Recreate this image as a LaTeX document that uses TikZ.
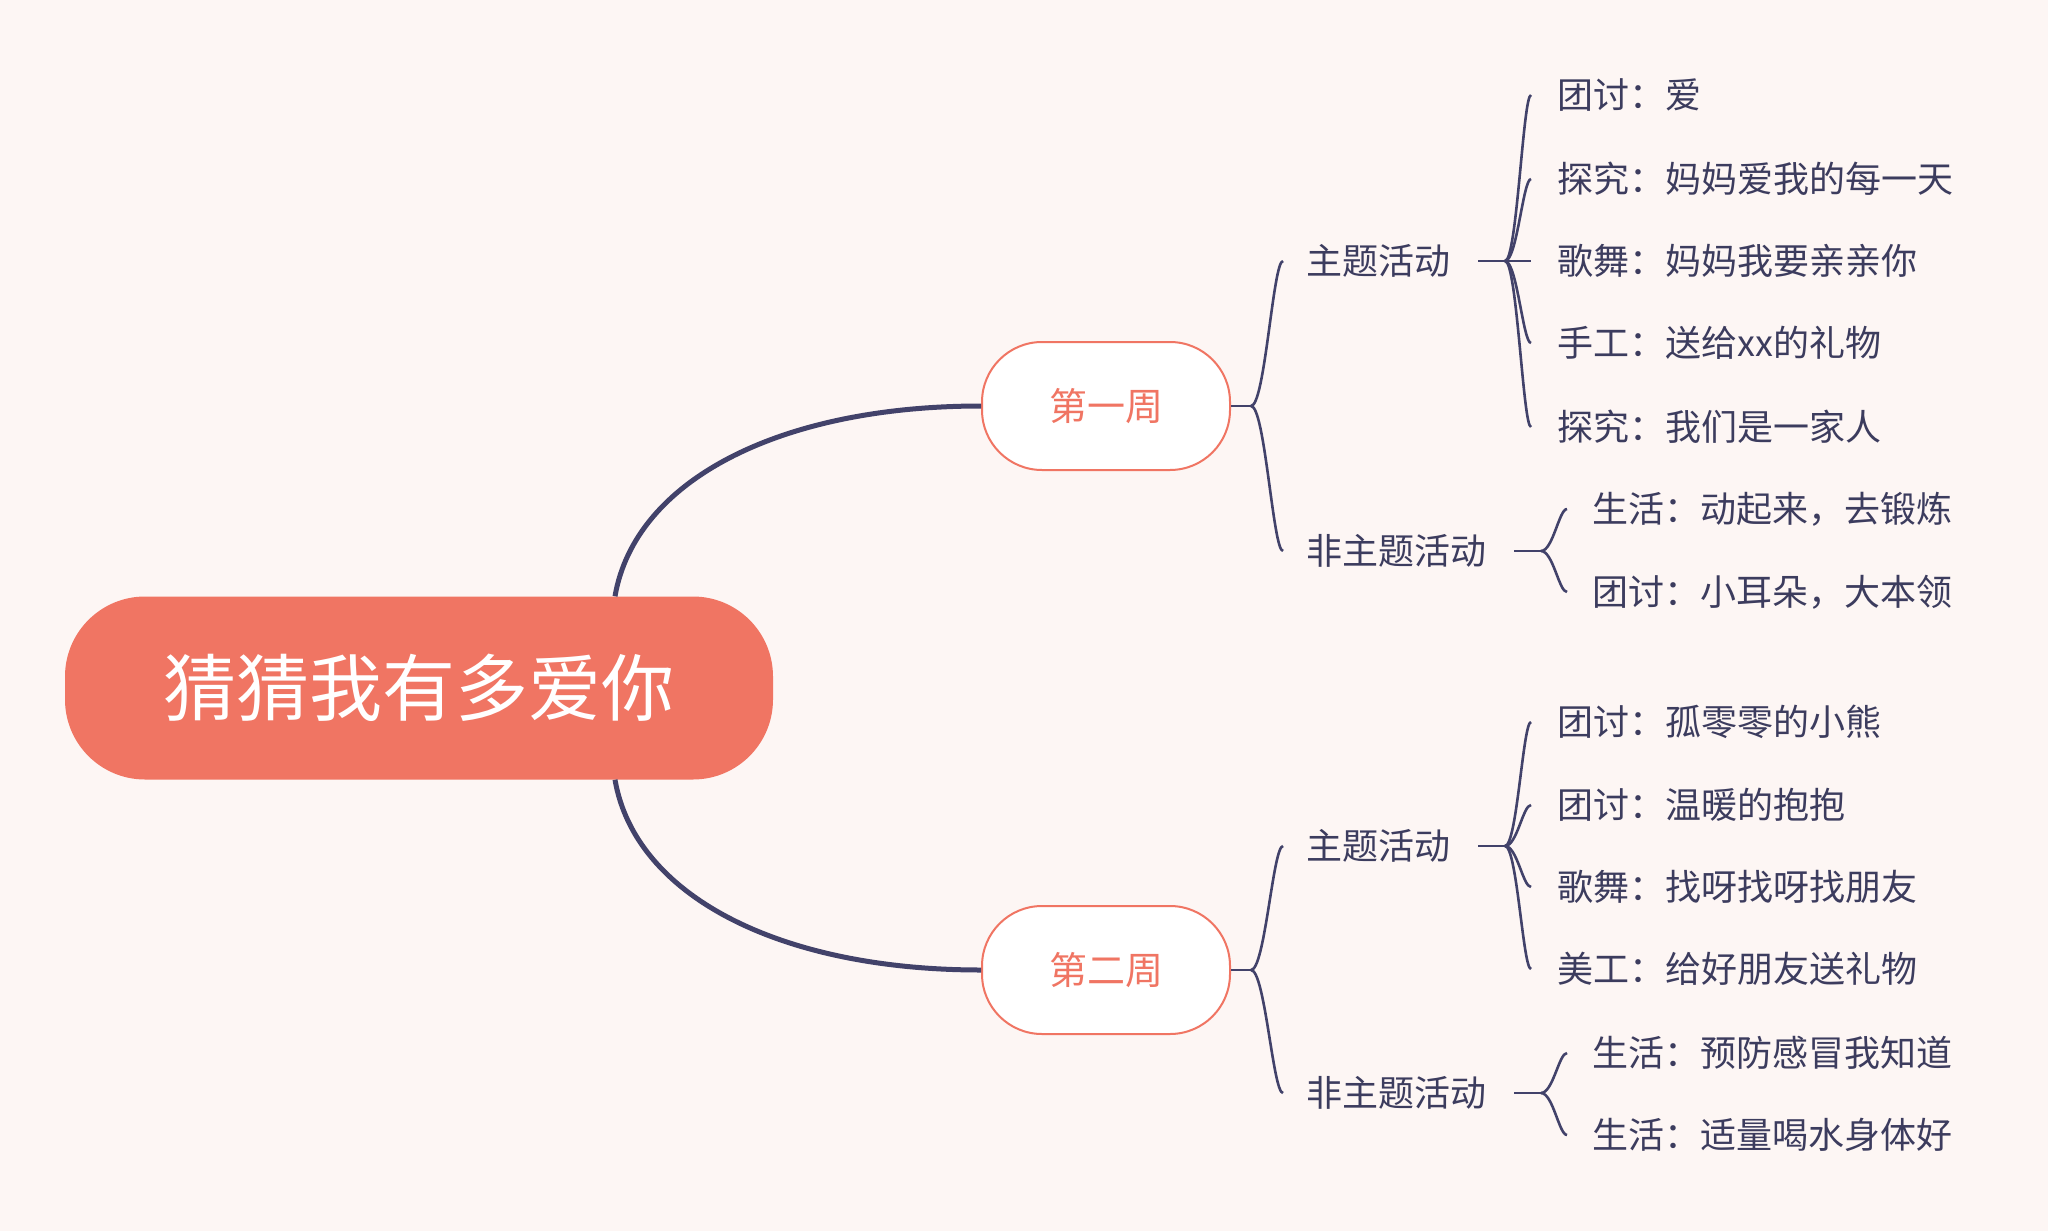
\documentclass[tikz,border=0pt]{standalone}
\usepackage{fontspec}
\newfontfamily\cjk{Noto Sans CJK SC}
\definecolor{bg}{HTML}{FDF6F4}
\definecolor{salmon}{HTML}{F07563}
\definecolor{navy}{HTML}{42426A}
\definecolor{txt}{HTML}{3C3C5E}
\tikzset{
  rootbox/.style={fill=salmon, rounded corners=80pt, minimum width=708pt, minimum height=183pt, inner sep=0pt, text=white, font=\cjk\fontsize{73}{80}\selectfont},
  weekbox/.style={fill=white, draw=salmon, line width=2pt, rounded corners=60pt, minimum width=248pt, minimum height=128pt, inner sep=0pt, text=salmon, font=\cjk\fontsize{38}{42}\selectfont},
  midtext/.style={anchor=west, inner sep=0pt, text=txt, font=\cjk\fontsize{36}{40}\selectfont},
  leaf/.style={anchor=west, inner sep=0pt, text=txt, font=\cjk\fontsize{36}{40}\selectfont},
  mainline/.style={draw=navy, line width=5pt},
  brline/.style={draw=navy, line width=2.6pt},
}
\begin{document}
\begin{tikzpicture}[x=1pt,y=-1pt]
\fill[bg] (0,0) rectangle (2048,1231);
\useasboundingbox (0,0) rectangle (2048,1231);

% main nodes
\node[rootbox] (r) at (419,688) {猜猜我有多爱你};
\node[weekbox] (w1) at (1106,406) {第一周};
\node[weekbox] (w2) at (1106,970) {第二周};

% main connectors
\draw[mainline] ([xshift=196pt]r.north) .. controls (635,480) and (780,406) .. (w1.west);
\draw[mainline] ([xshift=196pt]r.south) .. controls (635,896) and (780,970) .. (w2.west);

% week 1
\node[midtext] (a1) at (1306,261) {主题活动};
\node[midtext] (b1) at (1306,551) {非主题活动};
\coordinate (j1) at (1251,406);
\draw[brline] (w1.east) -- (j1);
\draw[brline] (j1) .. controls +(14,0) and +(-10,0) .. ([xshift=-23pt]a1.west);
\draw[brline] (j1) .. controls +(14,0) and +(-10,0) .. ([xshift=-23pt]b1.west);

\node[leaf] (l11) at (1557,95) {团讨：爱};
\node[leaf] (l12) at (1557,179) {探究：妈妈爱我的每一天};
\node[leaf] (l13) at (1557,261) {歌舞：妈妈我要亲亲你};
\node[leaf] (l14) at (1557,343) {手工：送给xx的礼物};
\node[leaf] (l15) at (1557,427) {探究：我们是一家人};
\coordinate (k1) at (1505,261);
\draw[brline] ([xshift=28pt]a1.east) -- (k1);
\foreach \n in {l11,l12,l13,l14,l15}
  \draw[brline] (k1) .. controls +(12,0) and +(-8,0) .. ([xshift=-26pt]\n.west);

\node[leaf] (m11) at (1592,509) {生活：动起来，去锻炼};
\node[leaf] (m12) at (1592,592) {团讨：小耳朵，大本领};
\coordinate (n1) at (1541,551);
\draw[brline] ([xshift=28pt]b1.east) -- (n1);
\foreach \n in {m11,m12}
  \draw[brline] (n1) .. controls +(12,0) and +(-8,0) .. ([xshift=-25pt]\n.west);

% week 2
\node[midtext] (a2) at (1306,846) {主题活动};
\node[midtext] (b2) at (1306,1093) {非主题活动};
\coordinate (j2) at (1251,970);
\draw[brline] (w2.east) -- (j2);
\draw[brline] (j2) .. controls +(14,0) and +(-10,0) .. ([xshift=-23pt]a2.west);
\draw[brline] (j2) .. controls +(14,0) and +(-10,0) .. ([xshift=-23pt]b2.west);

\node[leaf] (l21) at (1557,722) {团讨：孤零零的小熊};
\node[leaf] (l22) at (1557,805) {团讨：温暖的抱抱};
\node[leaf] (l23) at (1557,887) {歌舞：找呀找呀找朋友};
\node[leaf] (l24) at (1557,969) {美工：给好朋友送礼物};
\coordinate (k2) at (1505,846);
\draw[brline] ([xshift=28pt]a2.east) -- (k2);
\foreach \n in {l21,l22,l23,l24}
  \draw[brline] (k2) .. controls +(12,0) and +(-8,0) .. ([xshift=-26pt]\n.west);

\node[leaf] (m21) at (1592,1053) {生活：预防感冒我知道};
\node[leaf] (m22) at (1592,1135) {生活：适量喝水身体好};
\coordinate (n2) at (1541,1093);
\draw[brline] ([xshift=28pt]b2.east) -- (n2);
\foreach \n in {m21,m22}
  \draw[brline] (n2) .. controls +(12,0) and +(-8,0) .. ([xshift=-25pt]\n.west);
\end{tikzpicture}
\end{document}
